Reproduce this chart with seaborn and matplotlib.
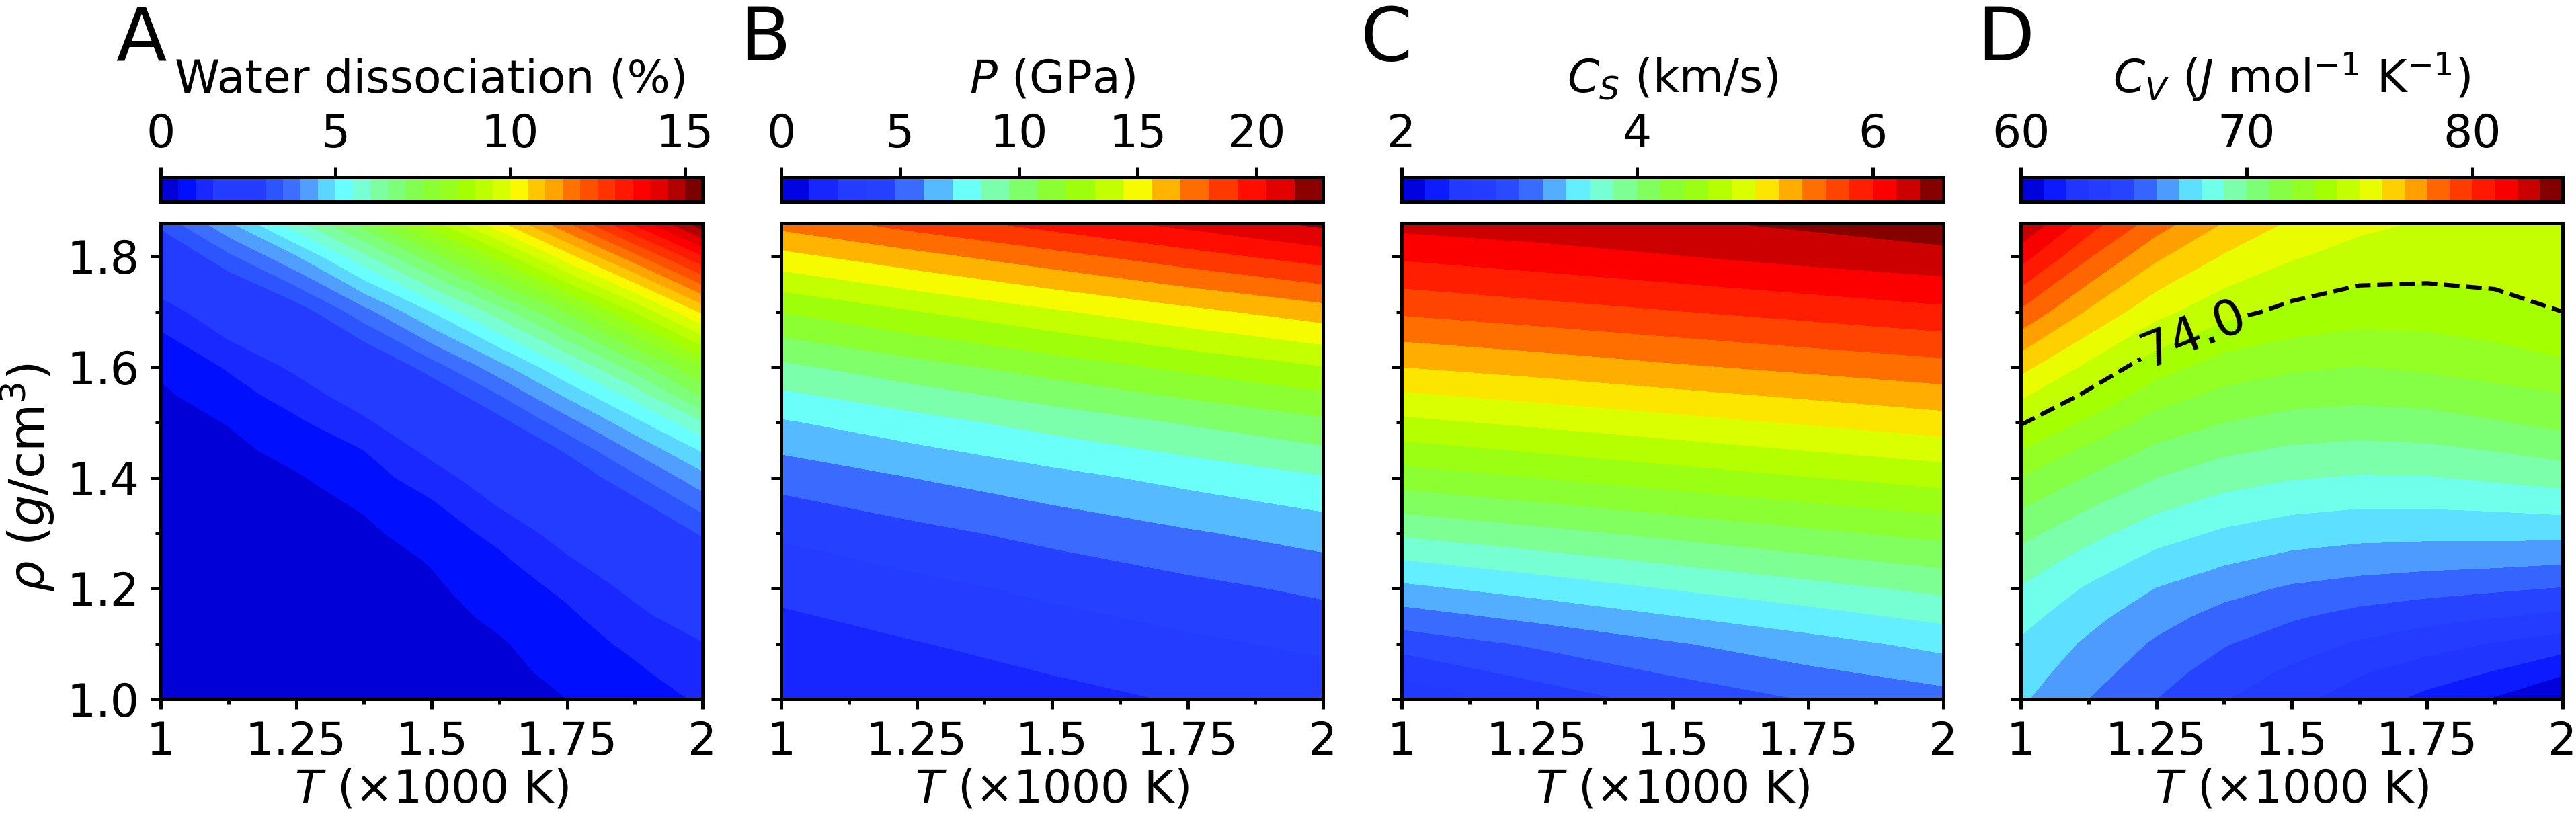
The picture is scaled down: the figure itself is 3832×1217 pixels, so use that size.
import numpy as np
import matplotlib
matplotlib.use('Agg')
import matplotlib.pyplot as plt
from matplotlib.colors import LinearSegmentedColormap
import seaborn as sns

# grids of the tables below
rho_fine = [1.0, 1.05, 1.1, 1.15, 1.2, 1.25, 1.3, 1.35, 1.4, 1.45, 1.5, 1.55, 1.6, 1.7, 1.8, 1.86]
rho_coarse = [1.0, 1.1, 1.2, 1.3, 1.4, 1.5, 1.6, 1.7, 1.8, 1.86]
T_fine = [1, 1.125, 1.25, 1.375, 1.5, 1.625, 1.75, 1.875, 2]
T_coarse = [1, 1.25, 1.5, 1.75, 2]

dissociation = [
    [0.03, 0.03, 0.05, 0.08, 0.15, 0.30, 0.50, 0.78, 1.06],
    [0.04, 0.04, 0.06, 0.10, 0.20, 0.37, 0.63, 0.92, 1.29],
    [0.05, 0.05, 0.07, 0.12, 0.25, 0.45, 0.77, 1.11, 1.47],
    [0.06, 0.06, 0.09, 0.16, 0.33, 0.60, 0.91, 1.36, 1.84],
    [0.07, 0.08, 0.12, 0.20, 0.42, 0.75, 1.10, 1.64, 2.19],
    [0.10, 0.11, 0.17, 0.29, 0.53, 0.90, 1.42, 1.96, 2.59],
    [0.12, 0.15, 0.22, 0.40, 0.73, 1.14, 1.75, 2.36, 3.06],
    [0.16, 0.20, 0.32, 0.55, 0.92, 1.53, 2.12, 2.81, 3.67],
    [0.20, 0.28, 0.45, 0.78, 1.25, 1.88, 2.56, 3.39, 4.32],
    [0.25, 0.38, 0.66, 1.00, 1.65, 2.31, 3.07, 4.07, 5.06],
    [0.30, 0.52, 0.91, 1.40, 2.03, 2.81, 3.79, 4.84, 5.94],
    [0.42, 0.78, 1.24, 1.81, 2.55, 3.50, 4.60, 5.72, 7.10],
    [0.58, 1.05, 1.61, 2.30, 3.24, 4.30, 5.48, 6.71, 8.02],
    [1.22, 1.96, 2.68, 3.80, 5.00, 6.25, 7.55, 9.02, 10.59],
    [2.30, 3.38, 4.45, 5.87, 7.28, 8.67, 10.28, 11.83, 13.45],
    [3.15, 4.42, 5.84, 7.23, 8.78, 10.38, 11.95, 13.60, 15.35],
]
pressure = [
    [1.30, 1.70, 2.05, 2.50, 2.80],
    [1.85, 2.35, 2.85, 3.35, 3.85],
    [2.68, 3.25, 3.86, 4.45, 5.04],
    [3.77, 4.47, 5.16, 5.85, 6.51],
    [5.23, 6.02, 6.80, 7.56, 8.30],
    [7.05, 7.95, 8.85, 9.70, 10.52],
    [9.32, 10.35, 11.33, 12.27, 13.15],
    [12.03, 13.15, 14.22, 15.25, 16.23],
    [15.22, 16.40, 17.55, 18.70, 19.78],
    [17.25, 18.55, 19.70, 20.80, 21.90],
]
sound_speed = [
    [2.43, 2.69, 2.87, 3.01, 3.12],
    [2.88, 3.03, 3.18, 3.32, 3.46],
    [3.35, 3.48, 3.61, 3.73, 3.85],
    [3.83, 3.94, 4.05, 4.16, 4.26],
    [4.30, 4.40, 4.50, 4.59, 4.68],
    [4.75, 4.84, 4.93, 5.02, 5.11],
    [5.20, 5.28, 5.37, 5.45, 5.53],
    [5.63, 5.71, 5.79, 5.87, 5.95],
    [6.03, 6.11, 6.19, 6.27, 6.34],
    [6.27, 6.32, 6.37, 6.44, 6.52],
]
heat_cap = [
    [67.15, 66.00, 65.00, 64.05, 63.28, 62.50, 61.72, 60.90, 59.95],
    [67.51, 66.41, 65.42, 64.55, 63.83, 63.11, 62.52, 61.96, 61.19],
    [67.85, 66.82, 65.85, 65.07, 64.45, 63.87, 63.38, 62.93, 62.45],
    [68.36, 67.31, 66.38, 65.66, 65.13, 64.68, 64.35, 64.08, 63.78],
    [68.92, 67.86, 66.97, 66.34, 65.86, 65.58, 65.35, 65.15, 64.94],
    [69.58, 68.57, 67.67, 67.13, 66.70, 66.48, 66.37, 66.29, 66.15],
    [70.30, 69.33, 68.43, 67.84, 67.49, 67.30, 67.25, 67.28, 67.28],
    [71.10, 70.09, 69.23, 68.63, 68.25, 68.09, 68.10, 68.20, 68.37],
    [71.98, 70.90, 70.00, 69.41, 69.06, 68.90, 68.93, 69.15, 69.40],
    [72.98, 71.78, 70.80, 70.18, 69.84, 69.72, 69.79, 70.03, 70.38],
    [74.10, 72.80, 71.60, 71.00, 70.63, 70.50, 70.60, 70.92, 71.26],
    [75.17, 73.83, 72.47, 71.76, 71.40, 71.29, 71.40, 71.69, 71.96],
    [76.30, 74.76, 73.42, 72.51, 72.16, 71.96, 72.15, 72.42, 72.80],
    [78.83, 76.86, 75.30, 74.33, 73.74, 73.46, 73.47, 73.69, 74.00],
    [81.42, 79.09, 77.18, 75.90, 75.10, 74.60, 74.50, 74.45, 74.50],
    [82.95, 80.50, 78.50, 76.95, 75.85, 75.25, 74.90, 74.80, 74.75],
]

levels_a = np.arange(0, 15.51, 0.5)
levels_b = np.arange(0, 22.81, 1.2)
levels_c = np.arange(2, 6.61, 0.2)
levels_d = np.arange(60, 84.1, 1)

# the band colours of panel A, a washed out jet
band_colors = ['#0000d7', '#000fff', '#1928ff', '#233cff', '#233cff', '#233cff',
               '#2d55ff', '#3c6eff', '#50a0ff', '#5ad7ff', '#69ffff', '#78ffd2',
               '#7dffa0', '#7dff78', '#82ff50', '#8cff32', '#96ff1e', '#a5ff00',
               '#bdff00', '#d7ff00', '#fafa00', '#ffc800', '#ffa500', '#ff7300',
               '#ff5000', '#ff3200', '#ff1900', '#ff0000', '#e60000', '#b40000',
               '#7d0000']

sns.set_style('ticks')
plt.rcParams['font.family'] = 'DejaVu Sans'
plt.rcParams['mathtext.fontset'] = 'dejavusans'
plt.rcParams['axes.linewidth'] = 1.2
plt.rcParams['axes.edgecolor'] = 'black'
plt.rcParams['text.color'] = 'black'
plt.rcParams['axes.labelcolor'] = 'black'
plt.rcParams['xtick.color'] = 'black'
plt.rcParams['ytick.color'] = 'black'

W, H = 3832, 1217
FS = 16.3
n = len(band_colors)
stops = [(0, band_colors[0])] + [((k + .5) / n, c) for k, c in enumerate(band_colors)] + [(1, band_colors[-1])]
cmap = LinearSegmentedColormap.from_list('band_jet', stops, N=1024)
fig = plt.figure(figsize=(W / 300, H / 300), dpi=300)


def box(x0, x1, y0, y1):
    return [x0 / W, 1 - y1 / H, (x1 - x0) / W, (y1 - y0) / H]


panels = [
    ('A', 172, 239, T_fine, rho_fine, dissociation, levels_a, [0, 5, 10, 15], 'Water dissociation (%)'),
    ('B', 1100, 1162, T_coarse, rho_coarse, pressure, levels_b, [0, 5, 10, 15, 20], r'$P$ (GPa)'),
    ('C', 2024, 2085, T_coarse, rho_coarse, sound_speed, levels_c, [2, 4, 6], r'$C_S$ (km/s)'),
    ('D', 2941, 3006, T_fine, rho_fine, heat_cap, levels_d, [60, 70, 80],
     r'$C_V$ ($J$ mol$^{-1}$ K$^{-1}$)'),
]

for i, (letter, lx, x0, Ts, rhos, vals, levels, cticks, clabel) in enumerate(panels):
    ax = fig.add_axes(box(x0, x0 + 806, 332, 1040))
    cax = fig.add_axes(box(x0, x0 + 806, 264, 300))
    cs = ax.contourf(Ts, rhos, np.array(vals), levels=levels, cmap=cmap)
    ax.set_xlim(1, 2)
    ax.set_ylim(1, 1.86)
    ax.set_xticks([1, 1.25, 1.5, 1.75, 2])
    ax.set_xticklabels(['1', '1.25', '1.5', '1.75', '2'])
    ax.set_xticks([1.125, 1.375, 1.625, 1.875], minor=True)
    ax.set_yticks([1.0, 1.2, 1.4, 1.6, 1.8])
    ax.set_yticks([1.1, 1.3, 1.5, 1.7], minor=True)
    ax.tick_params(which='major', length=3.5, width=1.2, labelsize=FS, pad=4)
    ax.tick_params(which='minor', length=2, width=1.2)
    ax.set_xlabel(r'$T$ ($\times$1000 K)', fontsize=FS, labelpad=1)
    if i == 0:
        ax.set_ylabel(r'$\rho$ ($g$/cm$^3$)', fontsize=17.6)
        ax.yaxis.set_label_coords(-0.191, 0.465)
    else:
        ax.set_yticklabels([])

    cb = fig.colorbar(cs, cax=cax, orientation='horizontal')
    cb.set_ticks(cticks)
    cb.outline.set_linewidth(1.2)
    cax.xaxis.set_ticks_position('top')
    cax.xaxis.set_label_position('top')
    cax.tick_params(length=3.5, width=1.2, labelsize=FS, pad=4)
    cax.minorticks_off()
    cax.set_xlabel(clabel, fontsize=FS, labelpad=7)

    fig.text(lx / W, 1 - 90 / H, letter, fontsize=26.5, ha='left', va='baseline')

    if letter == 'D':
        line = ax.contour(Ts, rhos, np.array(vals), levels=[74.0], colors='k',
                          linestyles='--', linewidths=1.5)
        ax.clabel(line, fmt='%.1f', fontsize=17.5, manual=[(1.32, 1.655)], inline=True)

fig.savefig('out.png', dpi=300)
